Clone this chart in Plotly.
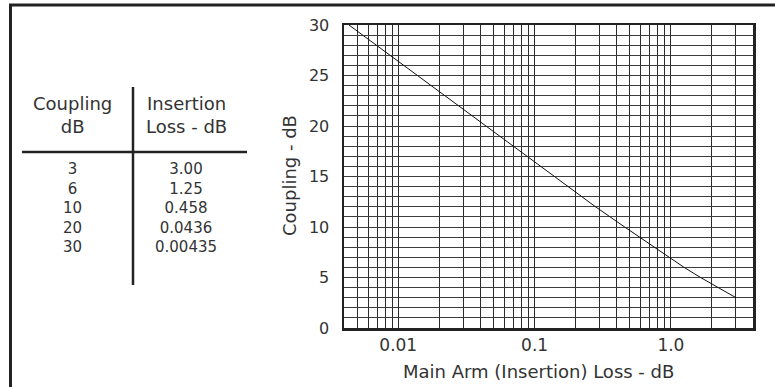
import plotly.graph_objects as go

# ---- data ----
table_coupling = [3, 6, 10, 20, 30]
table_loss = [3.00, 1.25, 0.458, 0.0436, 0.00435]
table_loss_labels = ["3.00", "1.25", "0.458", "0.0436", "0.00435"]

# curve points (coupling dB vs insertion loss dB)
curve_coupling = [3, 4, 5, 6, 7, 8, 9, 10, 12, 15, 20, 25, 30]
curve_loss = [3.00, 2.2, 1.65, 1.25, 0.97, 0.75, 0.58, 0.458, 0.28, 0.14, 0.0436, 0.0138, 0.00435]

x_tick_vals = [0.01, 0.1, 1.0]
x_tick_text = ["0.01", "0.1", "1.0"]
y_tick_vals = [0, 5, 10, 15, 20, 25, 30]

header_col1 = ["Coupling", "dB"]
header_col2 = ["Insertion", "Loss - dB"]
x_title = "Main Arm (Insertion) Loss - dB"
y_title = "Coupling - dB"

W, H = 775, 387
FONT = "DejaVu Sans"
TXT = "#333333"
LINE = "#222222"

def px(x):
    return x / W

def py(y):
    return (H - y) / H

# minor log grid values (1..9 multiples per decade)
minor_vals = [m * 10.0 ** e for e in (-3, -2, -1, 0) for m in range(1, 10)]

fig = go.Figure()
fig.add_trace(go.Scatter(
    x=curve_loss, y=curve_coupling, mode="lines",
    line=dict(color="#111111", width=1), showlegend=False, hoverinfo="skip",
))

fig.update_layout(
    width=W, height=H,
    margin=dict(l=0, r=0, t=0, b=0, autoexpand=False),
    paper_bgcolor="white", plot_bgcolor="white",
    font=dict(family=FONT, color=TXT, size=17),
    xaxis=dict(
        type="log", range=[-2.39794, 0.60206],
        domain=[px(344), px(753)],
        tickvals=x_tick_vals, ticktext=x_tick_text,
        showgrid=True, gridcolor="#2a2a2a", gridwidth=1,
        minor=dict(tickvals=minor_vals, showgrid=True, gridcolor="#2a2a2a", gridwidth=1, ticks=""),
        showline=True, linecolor=LINE, linewidth=2.5, mirror=True,
        ticks="", zeroline=False, automargin=False,
        tickfont=dict(size=17, color=TXT),
        ticklabelstandoff=0,
    ),
    yaxis=dict(
        range=[0, 30],
        domain=[py(328), py(25)],
        tickvals=y_tick_vals,
        showgrid=True, gridcolor="#3c3c3c", gridwidth=1,
        minor=dict(dtick=1, showgrid=True, gridcolor="#3c3c3c", gridwidth=1, ticks=""),
        showline=True, linecolor=LINE, linewidth=2.5, mirror=True,
        ticks="", zeroline=False, automargin=False,
        tickfont=dict(size=16, color=TXT),
        ticklabelstandoff=9,
    ),
)

shapes = []
# outer frame (top and left)
shapes.append(dict(type="line", xref="paper", yref="paper",
                   x0=px(9), x1=1.0, y0=py(5), y1=py(5), line=dict(color=LINE, width=3)))
shapes.append(dict(type="line", xref="paper", yref="paper",
                   x0=px(10.5), x1=px(10.5), y0=py(4), y1=0, line=dict(color=LINE, width=3)))
# table cross
shapes.append(dict(type="line", xref="paper", yref="paper",
                   x0=px(133), x1=px(133), y0=py(87), y1=py(285), line=dict(color=LINE, width=2.5)))
shapes.append(dict(type="line", xref="paper", yref="paper",
                   x0=px(22), x1=px(247), y0=py(152), y1=py(152), line=dict(color=LINE, width=2.5)))
fig.update_layout(shapes=shapes)

ann = []
col1_x, col2_x = px(72.5), px(186)
# headers: two lines each
ann.append(dict(x=col1_x, y=py(115), xref="paper", yref="paper", text="<br>".join(header_col1),
                showarrow=False, xanchor="center", yanchor="middle", align="center",
                font=dict(size=18, color=TXT)))
ann.append(dict(x=col2_x, y=py(115), xref="paper", yref="paper", text="<br>".join(header_col2),
                showarrow=False, xanchor="center", yanchor="middle", align="center",
                font=dict(size=18, color=TXT)))
# table body
ann.append(dict(x=col1_x, y=py(207.5), xref="paper", yref="paper",
                text="<br>".join(str(c) for c in table_coupling),
                showarrow=False, xanchor="center", yanchor="middle", align="center",
                font=dict(size=15, color=TXT)))
ann.append(dict(x=col2_x, y=py(207.5), xref="paper", yref="paper",
                text="<br>".join(table_loss_labels),
                showarrow=False, xanchor="center", yanchor="middle", align="center",
                font=dict(size=15, color=TXT)))
# axis titles
ann.append(dict(x=px(538), y=py(371), xref="paper", yref="paper", text=x_title,
                showarrow=False, xanchor="center", yanchor="middle", font=dict(size=18, color=TXT)))
ann.append(dict(x=px(290), y=py(176), xref="paper", yref="paper", text=y_title, textangle=-90,
                showarrow=False, xanchor="center", yanchor="middle", font=dict(size=18, color=TXT)))
fig.update_layout(annotations=ann)

fig.write_html(
    "out.html",
    config={"displayModeBar": False, "staticPlot": True},
    post_script="document.body.style.margin='0';document.body.style.overflow='hidden';",
)
